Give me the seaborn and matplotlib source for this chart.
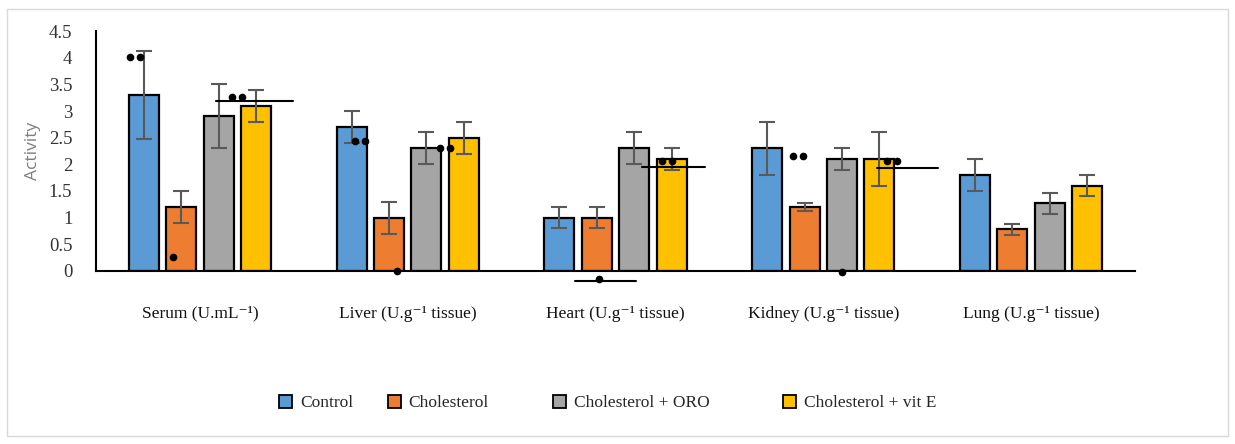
import numpy as np
import pandas as pd
import matplotlib
matplotlib.use("Agg")
import matplotlib.pyplot as plt
import matplotlib.patches as mpatches
import seaborn as sns

# Enzyme activity per tissue and treatment group
tissues = ["Serum (U.mL\u207b\u00b9)", "Liver (U.g\u207b\u00b9 tissue)", "Heart (U.g\u207b\u00b9 tissue)",
           "Kidney (U.g\u207b\u00b9 tissue)", "Lung (U.g\u207b\u00b9 tissue)"]
groups = ["Control", "Cholesterol", "Cholesterol + ORO", "Cholesterol + vit E"]

control = [3.3, 2.7, 1.0, 2.3, 1.8]
cholesterol = [1.2, 1.0, 1.0, 1.2, 0.78]
chol_oro = [2.9, 2.3, 2.3, 2.1, 1.27]
chol_vite = [3.1, 2.5, 2.1, 2.1, 1.6]

control_err = [0.83, 0.3, 0.2, 0.5, 0.3]
cholesterol_err = [0.3, 0.3, 0.2, 0.08, 0.1]
chol_oro_err = [0.6, 0.3, 0.3, 0.2, 0.2]
chol_vite_err = [0.3, 0.3, 0.2, 0.5, 0.2]

colors = ["#5B9BD5", "#ED7D31", "#A5A5A5", "#FFC000"]

# Significance marks (x in category units, y in activity units)
pair_x = [-0.31, 0.18, 0.77, 1.18, 2.25, 2.88, 3.33]
pair_y = [4.02, 3.27, 2.44, 2.31, 2.06, 2.16, 2.06]
dot_x = [-0.13, 0.95, 1.92, 3.09]
dot_y = [0.26, 0.0, -0.15, -0.02]
line_x0 = [0.077, 1.805, 2.13, 3.26]
line_x1 = [0.448, 2.10, 2.43, 3.55]
line_y = [3.19, -0.19, 1.95, 1.93]

# Left edge of each legend entry, as a fraction of the figure width
legend_x = [0.226, 0.314, 0.448, 0.634]

values = [control, cholesterol, chol_oro, chol_vite]
errors = [control_err, cholesterol_err, chol_oro_err, chol_vite_err]
df = pd.DataFrame({
    "tissue": np.tile(tissues, len(groups)),
    "group": np.repeat(groups, len(tissues)),
    "activity": np.concatenate(values),
})

sns.set_style("white")
plt.rcParams["font.family"] = ["Liberation Serif", "DejaVu Serif"]

fig = plt.figure(figsize=(12.35, 4.44), dpi=100)
ax = fig.add_axes([0.0777, 0.39, 0.8413, 0.54])

sns.barplot(data=df, x="tissue", y="activity", hue="group", order=tissues,
            hue_order=groups, palette=colors, errorbar=None, width=0.72,
            gap=0.2, edgecolor="black", linewidth=1.6, saturation=1, ax=ax)

for cont, err in zip(ax.containers, errors):
    xs = [b.get_x() + b.get_width() / 2 for b in cont]
    ys = [b.get_height() for b in cont]
    ax.errorbar(xs, ys, yerr=err, fmt="none", ecolor="#595959", elinewidth=1.5,
                capsize=6, capthick=1.5, zorder=5)

ax.set_ylim(0, 4.5)
ax.set_xlim(-0.5, 4.5)
ax.set_yticks(np.arange(0, 4.51, 0.5))
ax.set_yticklabels(["0", "0.5", "1", "1.5", "2", "2.5", "3", "3.5", "4", "4.5"])
ax.tick_params(axis="y", length=0, pad=17, labelsize=13.5, labelcolor="#333333")
ax.tick_params(axis="x", length=0, pad=25, labelsize=12.5, labelcolor="#111111")
ax.set_xlabel("")
ax.set_ylabel("Activity", family=["Open Sans", "DejaVu Sans"], fontsize=12.5,
              color="#7F7F7F", labelpad=6)
for s in ["top", "right"]:
    ax.spines[s].set_visible(False)
for s in ["left", "bottom"]:
    ax.spines[s].set_color("black")
    ax.spines[s].set_linewidth(1.5)

# double-dot significance marks
for x, y in zip(pair_x, pair_y):
    ax.plot([x - 0.024, x + 0.024], [y, y], "o", color="black", markersize=4.5,
            linestyle="none", clip_on=False, zorder=6)
for x, y in zip(dot_x, dot_y):
    ax.plot(x, y, "o", color="black", markersize=4.5, clip_on=False, zorder=6)
for x0, x1, y in zip(line_x0, line_x1, line_y):
    ax.plot([x0, x1], [y, y], color="black", linewidth=1.5, clip_on=False, zorder=6)

ax.get_legend().remove()
for lx, c, g in zip(legend_x, colors, groups):
    h = mpatches.Patch(facecolor=c, edgecolor="black", linewidth=1.3)
    fig.legend([h], [g], loc="center left", bbox_to_anchor=(lx, 0.092),
               frameon=False, fontsize=12.5, handlelength=0.75, handleheight=0.75,
               handletextpad=0.45, borderpad=0, borderaxespad=0)

fig.patches.append(mpatches.Rectangle((0.006, 0.018), 0.988, 0.962, transform=fig.transFigure,
                                      fill=False, edgecolor="#D9D9D9", linewidth=1))

fig.savefig("out.png", dpi=100, facecolor="white")
